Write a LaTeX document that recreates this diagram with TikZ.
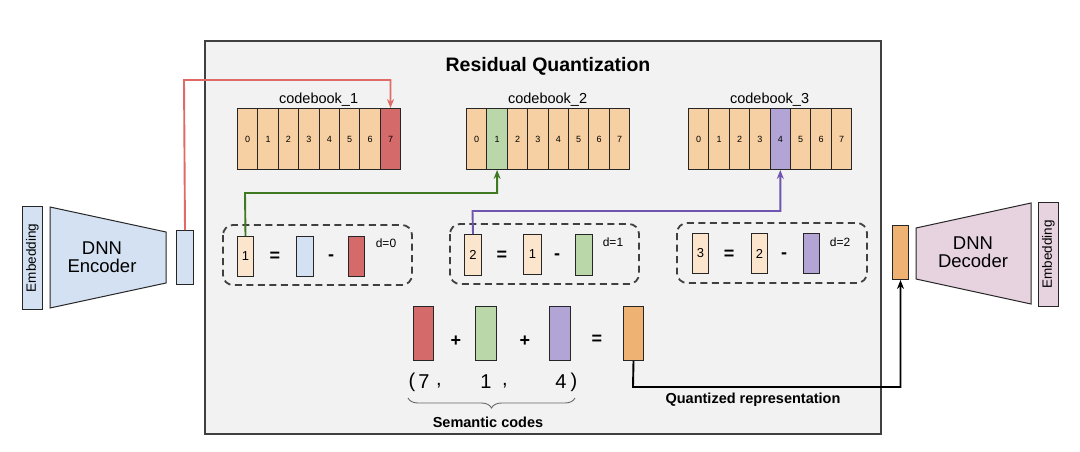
\documentclass[tikz,border=0pt]{standalone}
\usepackage{fontspec}
\setmainfont{Liberation Sans}
\usetikzlibrary{arrows.meta,decorations.pathreplacing}
\definecolor{peach}{HTML}{F6CFA2}
\definecolor{lpeach}{HTML}{FCE5CD}
\definecolor{cred}{HTML}{D46A6A}
\definecolor{cgreen}{HTML}{B9D7A8}
\definecolor{cpurple}{HTML}{B2A5D5}
\definecolor{cblue}{HTML}{D4E1F2}
\definecolor{corange}{HTML}{EEB372}
\definecolor{cpink}{HTML}{E7D2DF}
\definecolor{lred}{HTML}{E06A66}
\definecolor{lgreen}{HTML}{3F7A22}
\definecolor{lpurple}{HTML}{6F55B0}
\definecolor{bgray}{HTML}{F2F2F2}
\tikzset{
  fs/.style={font=\fontsize{#1}{#1}\selectfont},
  cell/.style={draw=black!85,line width=1pt,fill=peach,minimum width=20.4pt,minimum height=61pt,inner sep=0pt,fs=9,anchor=north west},
  vec/.style={draw=black!85,line width=1pt,inner sep=0pt,anchor=north west},
  dbox/.style={draw=black!75,line width=1.8pt,dash pattern=on 7pt off 4.5pt,rounded corners=10pt},
  op/.style={font=\bfseries\fontsize{18}{18}\selectfont,inner sep=0pt},
  conn/.style={line width=1.9pt,-{Stealth[length=9pt,width=7pt]}},
}
\begin{document}
\begin{tikzpicture}[x=1pt,y=-1pt]
\useasboundingbox (0,0) rectangle (1080,451);
\fill[white] (0,0) rectangle (1080,451);
% main box
\draw[fill=bgray,draw=black!75,line width=1.2pt] (205,41) rectangle (881,434);
\node[font=\bfseries\fontsize{19.5}{19.5}\selectfont] (title) at (548,66) {Residual Quantization};

% codebooks
\foreach \k/\x/\sel/\col in {1/237/7/cred,2/466/1/cgreen,3/688/4/cpurple}{
  \foreach \i in {0,...,7}{
    \ifnum\i=\sel
      \node[cell,fill=\col] (cb\k-\i) at ({\x+20.4*\i},108) {\i};
    \else
      \node[cell] (cb\k-\i) at ({\x+20.4*\i},108) {\i};
    \fi
  }
  \node[fs=14.5] (cbl\k) at ({\x+81.6},100) {codebook\_\k};
}

% encoder
\node[vec,fill=cblue,minimum width=20pt,minimum height=103pt] (emb1) at (22,206) {};
\node[rotate=90,fs=13.5] at (emb1.center) {Embedding};
\draw[fill=cblue,draw=black!85,line width=1pt] (50,207) -- (166,232) -- (166,283) -- (50,308) -- cycle;
\node[fs=18.5,align=center] (enc) at (102,257) {DNN\\[-1pt]Encoder};
\node[vec,fill=cblue,minimum width=17pt,minimum height=54pt] (encout) at (176,230) {};

% decoder
\node[vec,fill=corange,minimum width=16pt,minimum height=54pt] (decin) at (892,225) {};
\draw[fill=cpink,draw=black!85,line width=1pt] (916,228) -- (1031,203) -- (1031,304) -- (916,279) -- cycle;
\node[fs=18.5,align=center] (dec) at (973,252) {DNN\\[-1pt]Decoder};
\node[vec,fill=cpink,minimum width=20pt,minimum height=104pt] (emb2) at (1038,202) {};
\node[rotate=90,fs=13.5] at (emb2.center) {Embedding};

% dashed boxes
\draw[dbox] (223,225) rectangle (412,285);
\draw[dbox] (450,224) rectangle (639,284);
\draw[dbox] (677,223) rectangle (867,283);

% box 1
\node[vec,fill=lpeach,minimum width=16pt,minimum height=40pt,fs=13] (r1) at (237,236) {1};
\node[op] at (275,257) {=};
\node[vec,fill=cblue,minimum width=17pt,minimum height=40pt] (b1) at (296,236) {};
\node[op] at (331,258) {-};
\node[vec,fill=cred,minimum width=16pt,minimum height=40pt] (b2) at (348,236) {};
\node[fs=12] at (386,243) {d=0};

% box 2
\node[vec,fill=lpeach,minimum width=17pt,minimum height=41pt,fs=13] (r2) at (464,234) {2};
\node[op] at (502,256) {=};
\node[vec,fill=lpeach,minimum width=18pt,minimum height=40pt,fs=13] (r1b) at (523,234) {1};
\node[op] at (557,257) {-};
\node[vec,fill=cgreen,minimum width=17pt,minimum height=41pt] (g2) at (575,234) {};
\node[fs=12] at (613,242) {d=1};

% box 3
\node[vec,fill=lpeach,minimum width=16pt,minimum height=40pt,fs=13] (r3) at (692,233) {3};
\node[op] at (729,255) {=};
\node[vec,fill=lpeach,minimum width=16pt,minimum height=40pt,fs=13] (r2b) at (751,233) {2};
\node[op] at (784,256) {-};
\node[vec,fill=cpurple,minimum width=16pt,minimum height=40pt] (p3) at (803,233) {};
\node[fs=12] at (840,242) {d=2};

% sum row
\node[vec,fill=cred,minimum width=20pt,minimum height=54pt] (s1) at (413,306) {};
\node[op] at (456,341) {+};
\node[vec,fill=cgreen,minimum width=21pt,minimum height=54pt] (s2) at (475,306) {};
\node[op] at (525,341) {+};
\node[vec,fill=cpurple,minimum width=21pt,minimum height=54pt] (s3) at (549,306) {};
\node[op] at (597,340) {=};
\node[vec,fill=corange,minimum width=20pt,minimum height=54pt] (s4) at (623,306) {};

% codes
\node[fs=20,inner sep=0pt] at (412,382) {(};
\node[fs=20,inner sep=0pt] at (424,382) {7};
\node[fs=20,inner sep=0pt] at (439,386) {,};
\node[fs=20,inner sep=0pt] at (486,382) {1};
\node[fs=20,inner sep=0pt] at (505,386) {,};
\node[fs=20,inner sep=0pt] at (561,382) {4};
\node[fs=20,inner sep=0pt] at (574,382) {)};
\draw[black!60,line width=0.9pt,decorate,decoration={brace,mirror,amplitude=10pt}] (408,398) -- (575,398);
\node[font=\bfseries\fontsize{14.5}{14.5}\selectfont] (sc) at (488,422) {Semantic codes};
\node[font=\bfseries\fontsize{14.5}{14.5}\selectfont] (qr) at (753,400) {Quantized representation};

% connectors
\draw[conn,lred] (encout.north) -- (184,80) -| (cb1-7.north);
\draw[conn,lgreen] (r1.north) -- (245,193) -| (cb2-1.south);
\draw[conn,lpurple] (r2.north) -- (472.5,211) -| (cb3-4.south);
\draw[conn,black] (s4.south) -- (633,387) -| (decin.south);
\end{tikzpicture}
\end{document}
